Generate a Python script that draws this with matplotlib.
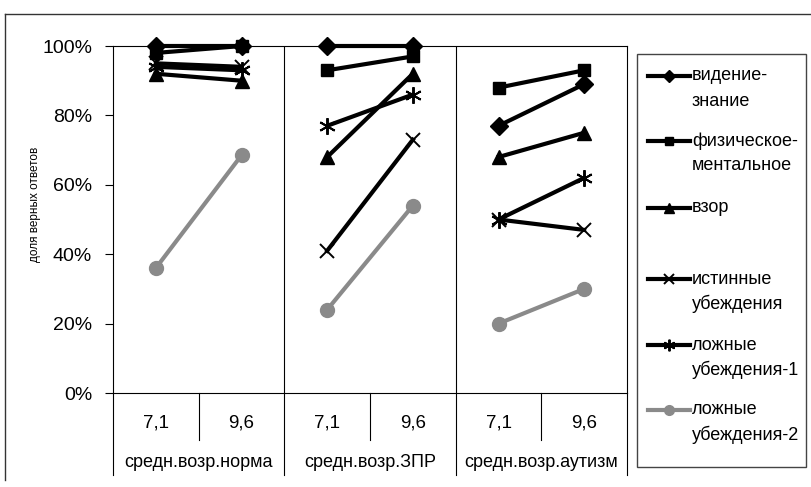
import matplotlib.pyplot as plt
from matplotlib.patches import Rectangle

plt.rcParams['font.family'] = ['Liberation Sans', 'DejaVu Sans']

# groups and ages on the x axis
groups = ['средн.возр.норма', 'средн.возр.ЗПР', 'средн.возр.аутизм']
ages = ['7,1', '9,6']

# percent of correct answers, two ages per group
vision = [100, 100, 100, 100, 77, 89]
physical = [98, 100, 93, 97, 88, 93]
gaze = [92, 90, 68, 92, 68, 75]
true_belief = [95, 94, 41, 73, 50, 47]
false_belief1 = [94, 93, 77, 86, 50, 62]
false_belief2 = [36, 68.5, 24, 54, 20, 30]

labels = ['видение-\nзнание', 'физическое-\nментальное', 'взор',
          'истинные\nубеждения', 'ложные\nубеждения-1', 'ложные\nубеждения-2']
values = [vision, physical, gaze, true_belief, false_belief1, false_belief2]

asterisk = (6, 2, 0)
styles = [
    dict(color='black', marker='D', ms=9, mew=1),
    dict(color='black', marker='s', ms=9, mew=1),
    dict(color='black', marker='^', ms=10, mew=1),
    dict(color='black', marker='x', ms=10, mew=1.4),
    dict(color='black', marker=asterisk, ms=12, mew=1.4),
    dict(color='#8a8a8a', marker='o', ms=10, mew=1),
]

W, H = 811, 487
fig = plt.figure(figsize=(W / 100, H / 100), dpi=100)
ax = fig.add_axes([113 / W, 1 - 393 / H, (627 - 113) / W, (393 - 46) / H])

for vals, st in zip(values, styles):
    for g in range(len(groups)):
        xs = [2 * g, 2 * g + 1]
        ax.plot(xs, vals[2 * g:2 * g + 2], lw=3, clip_on=False, zorder=3,
                color=st['color'], marker=st['marker'], ms=st['ms'],
                mew=st['mew'], mec=st['color'], mfc=st['color'])

ax.set_xlim(-0.5, 5.5)
ax.set_ylim(0, 100)
ax.set_yticks(range(0, 101, 20))
ax.set_yticklabels([f'{v}%' for v in range(0, 101, 20)])
ax.tick_params(axis='y', direction='out', length=6, width=0.8, labelsize=14, pad=9)
ax.set_xticks([])
for sp in ax.spines.values():
    sp.set_linewidth(0.8)
    sp.set_color('black')

ax.axvline(1.5, color='black', lw=0.8)
ax.axvline(3.5, color='black', lw=0.8)

# two-level category axis under the plot
trans = ax.get_xaxis_transform()
for x in [-0.5, 1.5, 3.5, 5.5]:
    ax.plot([x, x], [0, -0.236], transform=trans, clip_on=False, color='black', lw=0.8)
for x in [0.5, 2.5, 4.5]:
    ax.plot([x, x], [0, -0.135], transform=trans, clip_on=False, color='black', lw=0.8)
for g, name in enumerate(groups):
    for k, age in enumerate(ages):
        ax.text(2 * g + k, -0.086, age, transform=trans, ha='center', va='center', fontsize=13.5)
    ax.text(2 * g + 0.5, -0.199, name, transform=trans, ha='center', va='center', fontsize=13)

# overlay in pixel units for frame, axis title and legend
lax = fig.add_axes([0, 0, 1, 1], zorder=5)
lax.set_xlim(0, W)
lax.set_ylim(H, 0)
lax.axis('off')
lax.plot([5, W], [14, 14], color='#333333', lw=1)
lax.plot([5, 5], [14, 480], color='#333333', lw=1)
lax.text(35, 204, 'доля верных ответов', rotation=90, fontsize=8.5, ha='center', va='center')

lax.add_patch(Rectangle((637, 54), 169, 413, fill=False, edgecolor='#444444', lw=1))
leg_y = [76, 141, 208, 279, 345, 410]
for y, lab, st in zip(leg_y, labels, styles):
    lax.plot([648, 690], [y, y], color=st['color'], lw=3)
    lax.plot([669], [y], color=st['color'], marker=st['marker'], ms=st['ms'] * 0.7,
             mew=st['mew'], mec=st['color'], mfc=st['color'])
    for i, line in enumerate(lab.split('\n')):
        lax.text(692, y + 25 * i, line, fontsize=13, ha='left', va='center')

fig.savefig('out.png', dpi=100, facecolor='white')
